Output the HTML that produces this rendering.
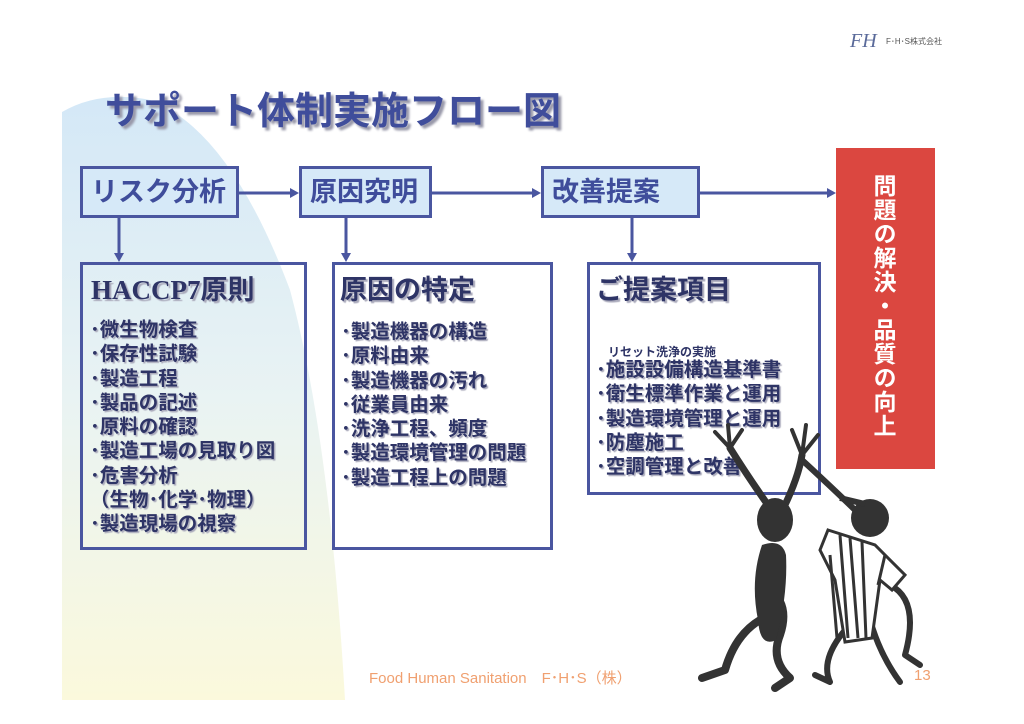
<!DOCTYPE html>
<html><head><meta charset="utf-8"><style>
body{margin:0;width:1024px;height:724px;background:#fff;position:relative;overflow:hidden;font-family:"Liberation Sans","Noto Sans CJK JP",sans-serif}
.a{position:absolute}
.box{position:absolute;border:3px solid #4a56a0;box-sizing:border-box}
.top{background:#d6e9f8;color:#3f4d9b;font-weight:bold;font-size:27px;line-height:46px;padding-left:8px;white-space:nowrap}
.hd{font-weight:bold;font-size:27px;color:#2e3466;text-shadow:2px 2px 1px #aab;white-space:nowrap}
.li{font-weight:bold;font-size:19.5px;line-height:24.3px;color:#2e3466;text-shadow:1.5px 1.5px 1px #aab;white-space:nowrap}
</style></head><body>
<svg class="a" style="left:0;top:0" width="1024" height="724">
<defs><linearGradient id="g" x1="0" y1="0" x2="0" y2="1"><stop offset="0" stop-color="#d4e8f7"/><stop offset="0.5" stop-color="#e9f3f3"/><stop offset="1" stop-color="#fbf9dc"/></linearGradient></defs>
<path d="M62 700 L62 112 Q100 90 150 100 Q230 130 290 290 Q330 440 345 700 Z" fill="url(#g)"/>
<g stroke="#4a56a0" stroke-width="3" fill="#4a56a0">
<line x1="239" y1="193" x2="292" y2="193"/><polygon points="299,193 290,188 290,198" stroke="none"/>
<line x1="432" y1="193" x2="534" y2="193"/><polygon points="541,193 532,188 532,198" stroke="none"/>
<line x1="700" y1="193" x2="829" y2="193"/><polygon points="836,193 827,188 827,198" stroke="none"/>
<line x1="119" y1="218" x2="119" y2="255"/><polygon points="119,262 114,253 124,253" stroke="none"/>
<line x1="346" y1="218" x2="346" y2="255"/><polygon points="346,262 341,253 351,253" stroke="none"/>
<line x1="632" y1="218" x2="632" y2="255"/><polygon points="632,262 627,253 637,253" stroke="none"/>
</g>
</svg>
<div class="a" style="left:850px;top:30px;font-family:'Liberation Serif',serif;font-style:italic;color:#5a6a9a;font-size:20px">FH</div>
<div class="a" style="left:886px;top:36px;font-size:8px;color:#555">F･H･S株式会社</div>
<div class="a" style="left:105px;top:80px;font-size:38px;font-weight:bold;color:#3f4d9b;text-shadow:3px 3px 2px #99a;white-space:nowrap">サポート体制実施フロー図</div>
<div class="box top" style="left:80px;top:166px;width:159px;height:52px">リスク分析</div>
<div class="box top" style="left:299px;top:166px;width:133px;height:52px">原因究明</div>
<div class="box top" style="left:541px;top:166px;width:159px;height:52px">改善提案</div>
<div class="a" style="left:836px;top:148px;width:99px;height:321px;background:#db4740"></div>
<div class="a" style="left:868px;top:174px;height:290px;font-size:23px;font-weight:bold;color:#fff;line-height:30px;writing-mode:vertical-rl;letter-spacing:1px">問題の解決・品質の向上</div>
<div class="box" style="left:80px;top:262px;width:227px;height:288px"></div>
<div class="box" style="left:332px;top:262px;width:221px;height:288px"></div>
<div class="box" style="left:587px;top:262px;width:234px;height:233px"></div>
<div class="a hd" style="left:91px;top:268px;font-family:'Liberation Serif','Noto Sans CJK JP',serif">HACCP7原則</div>
<div class="a li" style="left:90px;top:318px">･微生物検査<br>･保存性試験<br>･製造工程<br>･製品の記述<br>･原料の確認<br>･製造工場の見取り図<br>･危害分析<br>（生物･化学･物理）<br>･製造現場の視察</div>
<div class="a hd" style="left:340px;top:268px">原因の特定</div>
<div class="a li" style="left:341px;top:320px">･製造機器の構造<br>･原料由来<br>･製造機器の汚れ<br>･従業員由来<br>･洗浄工程、頻度<br>･製造環境管理の問題<br>･製造工程上の問題</div>
<div class="a hd" style="left:596px;top:268px">ご提案項目</div>
<div class="a" style="left:608px;top:343px;font-size:12px;font-weight:bold;color:#2e3466">リセット洗浄の実施</div>
<div class="a li" style="left:596px;top:358px">･施設設備構造基準書<br>･衛生標準作業と運用<br>･製造環境管理と運用<br>･防塵施工<br>･空調管理と改善</div>
<svg class="a" style="left:680px;top:420px" width="260" height="280" viewBox="0 0 260 280">
<g fill="none" stroke="#333" stroke-linecap="round" stroke-linejoin="round">
<path d="M95 95 Q70 60 50 28" stroke-width="7"/>
<path d="M50 28 L35 12 M50 28 L48 5 M50 28 L62 10" stroke-width="4"/>
<path d="M100 95 Q118 60 122 35" stroke-width="7"/>
<path d="M122 35 L112 10 M122 35 L126 5 M122 35 L138 15" stroke-width="4"/>
<path d="M90 170 Q110 185 100 215 Q90 240 110 258 L95 268 M80 200 Q55 215 45 250 L22 258" stroke-width="8"/>
<path d="M190 200 Q200 235 220 262 M165 210 Q140 240 150 262 L135 255" stroke-width="6"/>
<path d="M122 40 Q160 75 180 95" stroke-width="6"/>
<path d="M210 165 Q240 180 225 235 L240 245" stroke-width="6"/>
</g>
<ellipse cx="95" cy="100" rx="18" ry="22" fill="#333"/>
<path d="M82 125 Q102 118 106 135 Q108 175 96 220 Q80 228 78 200 Q70 160 82 125 Z" fill="#333"/>
<circle cx="190" cy="98" r="19" fill="#333"/>
<path d="M160 78 L185 84" stroke="#333" stroke-width="6"/>
<path d="M148 110 L195 125 L225 155 L212 170 L200 160 L192 218 L165 222 L155 160 L140 130 Z" fill="#fff" stroke="#333" stroke-width="3"/>
<path d="M160 115 L168 218 M170 118 L178 218 M182 122 L186 218 M150 135 L157 218 M205 135 L198 165" stroke="#333" stroke-width="3"/>
</svg>
<div class="a" style="left:369px;top:667px;font-size:15px;color:#f0a070">Food Human Sanitation　F･H･S（株）</div>
<div class="a" style="left:914px;top:667px;font-size:15px;color:#f0a070">13</div>
</body></html>
